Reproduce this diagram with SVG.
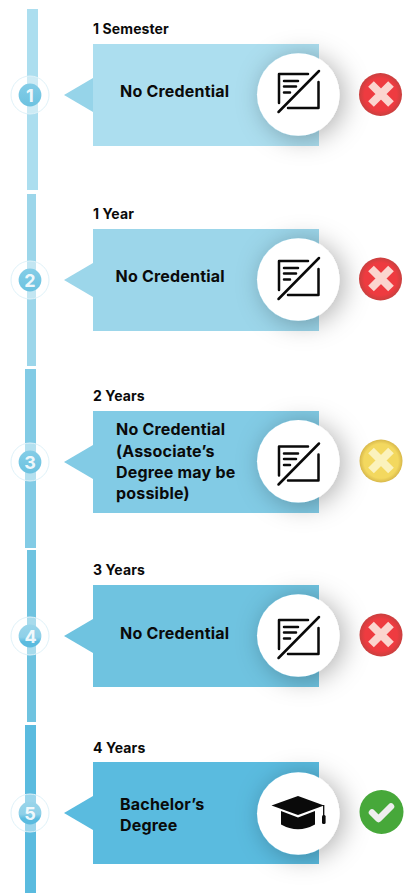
<svg xmlns="http://www.w3.org/2000/svg" width="408" height="893" viewBox="0 0 408 893">
<style>
.t{font-family:"Inter","Liberation Sans",sans-serif;font-weight:700;fill:#0a0a0a}
.d{font-size:14px;letter-spacing:.1px}.m{font-size:16px;letter-spacing:.2px}
.n{font-family:"Inter","Liberation Sans",sans-serif;font-weight:700;font-size:18px;fill:#fff;fill-opacity:.9;text-anchor:middle}
.ic{fill:none;stroke:#0a0a0a;stroke-width:2.500;stroke-linecap:round;stroke-linejoin:round}
.x{stroke-width:8;fill:none}
.halo{fill:#fff;fill-opacity:.4;stroke:#dff2f9;stroke-width:1}
.w{fill:#fff;filter:url(#sh)}
</style>
<defs>
<filter id="sh" x="-80%" y="-80%" width="260%" height="260%"><feDropShadow dx="5" dy="3" stdDeviation="13" flood-color="#000" flood-opacity=".3"/></filter>
<linearGradient id="d1" x1="0" y1="0" x2="0" y2="1"><stop offset="0" stop-color="#84cde7"/><stop offset="1" stop-color="#6cc2e0"/></linearGradient>
<linearGradient id="d2" x1="0" y1="0" x2="0" y2="1"><stop offset="0" stop-color="#99d5ea"/><stop offset=".55" stop-color="#8fd0e8"/><stop offset=".75" stop-color="#5abbdf"/><stop offset="1" stop-color="#5abbdf"/></linearGradient>
<radialGradient id="red"><stop offset=".75" stop-color="#ee3b40"/><stop offset="1" stop-color="#c9403f"/></radialGradient>
<radialGradient id="yel"><stop offset=".8" stop-color="#f3d85f"/><stop offset="1" stop-color="#d8b84a"/></radialGradient>
<g id="cred"><path class="ic" d="M308 74H279V103M318.500 82V108H288M278.500 112L319 71"/><path class="ic" d="M284 81H298M284 86.500H296M284 92.500H290"/></g>
<path id="cross" d="M371 84L391 104M391 84L371 104"/>
</defs>
<g id="connectors">
<rect x="27" y="9" width="11" height="181" fill="#acdeef"/>
<rect x="27" y="194" width="9" height="172" fill="#9cd6ea"/>
<rect x="25" y="369" width="11" height="179" fill="#82cbe5"/>
<rect x="27" y="550" width="9" height="172" fill="#6fc3e0"/>
<rect x="25" y="725" width="11" height="168" fill="#5abbdf"/>
</g>
<g id="node1">
<circle class="halo" cx="30" cy="95" r="19"/>
<circle cx="30" cy="95" r="11.400" fill="url(#d1)"/><text class="n" x="30" y="101.500">1</text>
<path d="M64 95L93 78V112Z" fill="#96d4e9"/><rect x="93" y="44" width="226" height="102" fill="#acdeef"/>
<text class="t d" x="93" y="34">1 Semester</text><text class="t m" x="120" y="97">No Credential</text>
<circle class="w" cx="298.300" cy="94.500" r="41.300"/><use href="#cred"/>
<circle cx="380.500" cy="94.500" r="21.500" fill="url(#red)"/><use href="#cross" class="x" stroke="#fbd5cf" y="0"/>
</g>
<g id="node2">
<circle class="halo" cx="30" cy="280" r="19"/>
<circle cx="30" cy="280" r="11.400" fill="url(#d1)"/><text class="n" x="30" y="286.500">2</text>
<path d="M64 280L93 263V297Z" fill="#9cd6ea"/><rect x="93" y="229" width="226" height="102" fill="#9cd6ea"/>
<text class="t d" x="93" y="219">1 Year</text><text class="t m" x="115.500" y="282">No Credential</text>
<circle class="w" cx="298.300" cy="279.500" r="41.300"/><use href="#cred" y="187"/>
<circle cx="380.500" cy="279" r="21.500" fill="url(#red)"/><use href="#cross" class="x" stroke="#fbd5cf" y="184.500"/>
</g>
<g id="node3">
<circle class="halo" cx="30" cy="462" r="19"/>
<circle cx="30" cy="462" r="11.400" fill="url(#d1)"/><text class="n" x="30" y="468.500">3</text>
<path d="M64 462L93 445V479Z" fill="#82cbe5"/><rect x="93" y="411" width="226" height="102" fill="#82cbe5"/>
<text class="t d" x="93" y="401">2 Years</text>
<text class="t m"><tspan x="116" y="435">No Credential</tspan><tspan x="116" y="457">(Associate’s</tspan><tspan x="116" y="478">Degree may be</tspan><tspan x="116" y="499">possible)</tspan></text>
<circle class="w" cx="298.300" cy="461.300" r="41.300"/><use href="#cred" y="372.500"/>
<circle cx="381" cy="461" r="21.500" fill="url(#yel)"/><use href="#cross" class="x" stroke="#fbf2bd" y="366.500"/>
</g>
<g id="node4">
<circle class="halo" cx="30" cy="636" r="19"/>
<circle cx="30" cy="636" r="11.400" fill="url(#d2)"/><text class="n" x="30.500" y="642.500">4</text>
<path d="M64 636L93 619V653Z" fill="#6fc3e0"/><rect x="93" y="585" width="226" height="102" fill="#6fc3e0"/>
<text class="t d" x="93" y="575">3 Years</text><text class="t m" x="120" y="639">No Credential</text>
<circle class="w" cx="298.300" cy="635.500" r="41.300"/><use href="#cred" y="546"/>
<circle cx="381" cy="635" r="21.500" fill="url(#red)"/><use href="#cross" class="x" stroke="#fbd5cf" y="540.500"/>
</g>
<g id="node5">
<circle class="halo" cx="30" cy="813" r="19"/>
<circle cx="30" cy="813" r="11.400" fill="url(#d2)"/><text class="n" x="30" y="819.500">5</text>
<path d="M64 813L93 796V830Z" fill="#5abbdf"/><rect x="93" y="762" width="226" height="102" fill="#5abbdf"/>
<text class="t d" x="93" y="753">4 Years</text>
<text class="t m"><tspan x="120" y="810">Bachelor’s</tspan><tspan x="120" y="831">Degree</tspan></text>
<circle class="w" cx="298.300" cy="813.500" r="41.300"/>
<path d="M298 796L324 805.500L298 815L271.500 805.500Z" fill="#0a0a0a"/><path d="M281 811L298 817.500L315 811V824.500Q298 834 281 824.500Z" fill="#0a0a0a"/><path d="M323.700 805V816" stroke="#0a0a0a" stroke-width="1.300"/><rect x="322" y="815" width="3.600" height="9" rx="1.500" fill="#0a0a0a"/>
<circle cx="381.500" cy="812" r="22" fill="#47a83a"/><path d="M372 812.500L378.500 819L391 806.500" fill="none" stroke="#eee" stroke-width="6.500" stroke-linecap="round" stroke-linejoin="round"/>
</g>
</svg>
